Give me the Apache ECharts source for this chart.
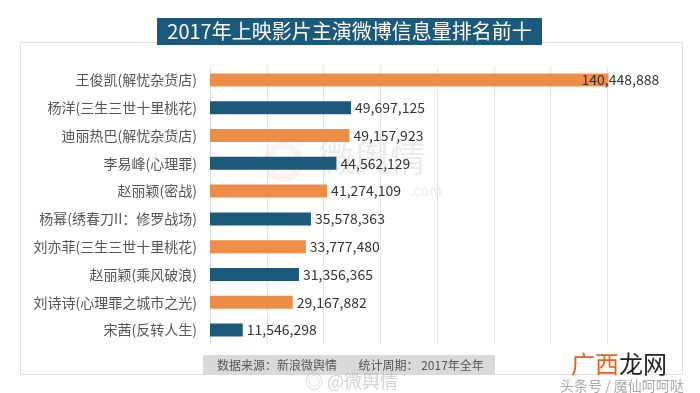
<!DOCTYPE html>
<html>
<head>
<meta charset="utf-8">
<script src="https://cdn.jsdelivr.net/npm/echarts@6/dist/echarts.min.js"></script>
<style>
html,body{margin:0;padding:0;background:#fff;}
#c{width:700px;height:393px;}
</style>
</head>
<body>
<div id="c"></div>
<script>
const titleText = '2017年上映影片主演微博信息量排名前十';
const categories = [
  '王俊凯(解忧杂货店)',
  '杨洋(三生三世十里桃花)',
  '迪丽热巴(解忧杂货店)',
  '李易峰(心理罪)',
  '赵丽颖(密战)',
  '杨幂(绣春刀II：修罗战场)',
  '刘亦菲(三生三世十里桃花)',
  '赵丽颖(乘风破浪)',
  '刘诗诗(心理罪之城市之光)',
  '宋茜(反转人生)'
];
const values = [140448888, 49697125, 49157923, 44562129, 41274109, 35578363, 33777480, 31356365, 29167882, 11546298];
const sourceText = '数据来源：新浪微舆情        统计周期： 2017年全年';

const ORANGE = '#EE8D47';
const BLUE = '#1C5A7C';
const FONT = '"Noto Sans CJK SC", "Noto Sans", sans-serif';

const fmt = v => v.toLocaleString('en-US');

const chart = echarts.init(document.getElementById('c'), null, {renderer: 'canvas'});

const barData = values.map((v, i) => {
  const d = {
    value: v,
    itemStyle: {color: i % 2 === 0 ? ORANGE : BLUE}
  };
  if (i === 0) {
    d.label = {offset: [-31, 0]};
  }
  return d;
});

chart.setOption({
  backgroundColor: '#fff',
  animation: false,
  textStyle: {fontFamily: FONT},
  grid: {left: 210, right: 36, top: 66, bottom: 49, containLabel: false},
  xAxis: {
    type: 'value',
    min: 0,
    max: 160000000,
    interval: 20000000,
    axisLabel: {show: false},
    axisLine: {show: false},
    axisTick: {show: false},
    splitLine: {show: true, showMaxLine: false, lineStyle: {color: '#e3e3e3', width: 1}}
  },
  yAxis: {
    type: 'category',
    inverse: true,
    data: categories,
    axisLine: {show: true, lineStyle: {color: '#dcdcdc'}},
    axisTick: {show: false},
    axisLabel: {
      margin: 13,
      color: '#555',
      fontSize: 14,
      fontFamily: FONT
    }
  },
  series: [{
    type: 'bar',
    data: barData,
    barWidth: 13,
    label: {
      show: true,
      position: 'right',
      distance: 4,
      color: '#333',
      fontSize: 14,
      fontFamily: FONT,
      formatter: p => fmt(p.value)
    }
  }],
  graphic: [
    {
      type: 'rect', z: -10, silent: true,
      shape: {x: 20.5, y: 42.5, width: 662, height: 332},
      style: {fill: 'none', stroke: '#dedede', lineWidth: 1}
    },
    {
      type: 'text', z: -5, silent: true,
      left: 318, top: 140,
      style: {text: '微舆情', font: '36px ' + FONT, fill: 'rgba(190,190,190,0.3)'}
    },
    {
      type: 'text', z: -5, silent: true,
      left: 410, top: 184,
      style: {text: '.com', font: '14px ' + FONT, fill: 'rgba(190,190,190,0.3)'}
    },
    {
      type: 'ring', z: -5, silent: true,
      shape: {cx: 283, cy: 162, r: 20, r0: 13},
      style: {fill: 'rgba(240,160,160,0.15)'}
    },
    {
      type: 'rect', silent: true,
      shape: {x: 157, y: 18, width: 385, height: 27},
      style: {fill: '#1C5A7C'}
    },
    {
      type: 'text', silent: true,
      x: 349.5, y: 31.5,
      style: {text: titleText, font: '20px ' + FONT, fill: '#fff', align: 'center', verticalAlign: 'middle'}
    },
    {
      type: 'rect', silent: true,
      shape: {x: 203, y: 355, width: 292, height: 20},
      style: {fill: '#d9d9d9'}
    },
    {
      type: 'text', silent: true,
      x: 217, y: 365,
      style: {text: sourceText, font: '12px ' + FONT, fill: '#555', verticalAlign: 'middle'}
    },
    {
      type: 'text', silent: true,
      x: 305, y: 381,
      style: {text: '◎ @微舆情', font: '18px ' + FONT, fill: 'rgba(170,170,170,0.5)', verticalAlign: 'middle'}
    },
    {
      type: 'text', silent: true,
      x: 571, y: 364,
      style: {
        text: '{a|广西}{b|龙网}',
        verticalAlign: 'middle',
        rich: {
          a: {font: '24px ' + FONT, fill: '#E8641E', color: '#E8641E'},
          b: {font: '24px ' + FONT, fill: '#222', color: '#222'}
        }
      }
    },
    {
      type: 'text', silent: true,
      x: 560, y: 386,
      style: {text: '头条号 / 魔仙呵呵哒', font: '14px ' + FONT, fill: '#aaa', verticalAlign: 'middle'}
    }
  ]
});
</script>
</body>
</html>
